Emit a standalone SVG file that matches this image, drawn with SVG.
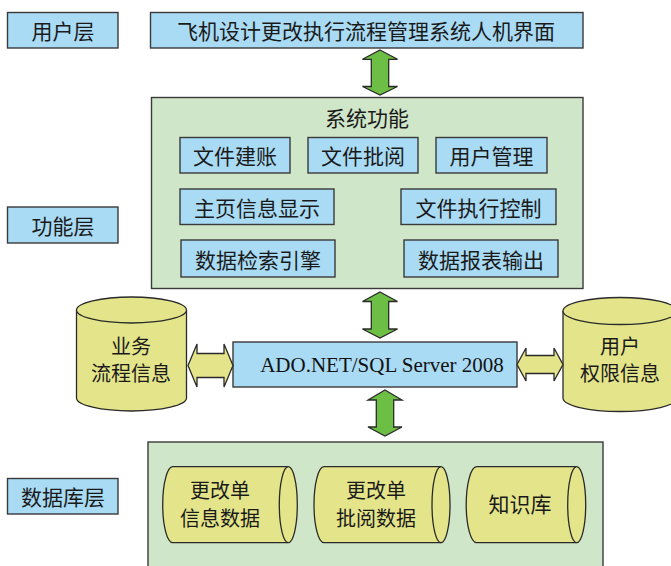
<svg xmlns="http://www.w3.org/2000/svg" width="671" height="566" viewBox="0 0 671 566">
  <style>
    .box { fill: #A9DBF5; stroke: #3a3a3a; stroke-width: 1.4; }
    .panel { fill: #D0E6C8; stroke: #3a3a3a; stroke-width: 1.4; }
    .db { fill: #E4E58A; stroke: #2a2a2a; stroke-width: 1.3; }
    .garrow { fill: #6CBE45; stroke: #2a2a2a; stroke-width: 1.3; stroke-linejoin: miter; }
    .yarrow { fill: #E4E58A; stroke: #2a2a2a; stroke-width: 1.3; }
    .t { font-family: "Noto Sans CJK SC", "Noto Sans", sans-serif; font-size: 21px; fill: #1a1a1a; text-anchor: middle; dominant-baseline: central; }
    .t2 { font-family: "Noto Sans CJK SC", "Noto Sans", sans-serif; font-size: 20px; fill: #1a1a1a; text-anchor: middle; dominant-baseline: central; }
    .en { font-family: "Liberation Serif", "Times New Roman", serif; font-size: 21px; fill: #111; text-anchor: middle; }
  </style>

  <!-- layer labels -->
  <g id="label-user">
    <rect class="box" x="7.5" y="12.5" width="110.5" height="35.5"/>
    <text class="t" x="63" y="30">用户层</text>
  </g>
  <g id="label-function">
    <rect class="box" x="7.5" y="207" width="110.5" height="36"/>
    <text class="t" x="63" y="225">功能层</text>
  </g>
  <g id="label-data">
    <rect class="box" x="7.5" y="478.5" width="110.5" height="35.5"/>
    <text class="t" x="63" y="496">数据库层</text>
  </g>

  <!-- user interface -->
  <g id="ui">
    <rect class="box" x="150.5" y="12.5" width="432.5" height="35.5"/>
    <text class="t" x="366" y="30">飞机设计更改执行流程管理系统人机界面</text>
  </g>

  <!-- system functions panel -->
  <g id="functions">
    <rect class="panel" x="151.5" y="97.5" width="431.5" height="191"/>
    <text class="t" x="367" y="117">系统功能</text>
  </g>
  <g id="f-create">
    <rect class="box" x="180" y="137.5" width="110" height="35.5"/>
    <text class="t" x="235" y="155">文件建账</text>
  </g>
  <g id="f-review">
    <rect class="box" x="308" y="137.5" width="110" height="35.5"/>
    <text class="t" x="363" y="155">文件批阅</text>
  </g>
  <g id="f-users">
    <rect class="box" x="436" y="137.5" width="111" height="35.5"/>
    <text class="t" x="491.5" y="155">用户管理</text>
  </g>
  <g id="f-home">
    <rect class="box" x="180" y="189" width="154" height="35.5"/>
    <text class="t" x="257" y="206.5">主页信息显示</text>
  </g>
  <g id="f-exec">
    <rect class="box" x="401" y="189" width="155" height="35.5"/>
    <text class="t" x="478.5" y="206.5">文件执行控制</text>
  </g>
  <g id="f-search">
    <rect class="box" x="181" y="240" width="154" height="37"/>
    <text class="t" x="258" y="258.5">数据检索引擎</text>
  </g>
  <g id="f-report">
    <rect class="box" x="404" y="240" width="154" height="37"/>
    <text class="t" x="481" y="258.5">数据报表输出</text>
  </g>

  <!-- data access -->
  <g id="ado">
    <rect class="box" x="233" y="342" width="284" height="45"/>
    <text class="en" x="382" y="372">ADO.NET/SQL Server 2008</text>
  </g>

  <!-- side databases -->
  <g id="db-business">
    <path class="db" d="M76.5,310 A55,13 0 0 1 186.5,310 L186.5,398 A55,13 0 0 1 76.5,398 Z"/>
    <path class="db" d="M76.5,310 A55,13 0 0 0 186.5,310" fill="none"/>
    <text class="t2" x="131" y="345">业务</text>
    <text class="t2" x="131" y="372">流程信息</text>
  </g>
  <g id="db-users">
    <path class="db" d="M563,311 A57,13.5 0 0 1 677,311 L677,398 A57,13.5 0 0 1 563,398 Z"/>
    <path class="db" d="M563,311 A57,13.5 0 0 0 677,311" fill="none"/>
    <text class="t2" x="620" y="345">用户</text>
    <text class="t2" x="620" y="372">权限信息</text>
  </g>

  <!-- data layer panel -->
  <g id="datastore">
    <rect class="panel" x="148" y="442" width="455" height="140"/>
  </g>
  <g id="db-change-info">
    <path class="db" d="M172.7,466.7 L288.3,466.7 A9,38 0 0 1 288.3,542.7 L172.7,542.7 A10,38 0 0 1 172.7,466.7 Z"/>
    <path class="db" d="M288.3,466.7 A9,38 0 0 0 288.3,542.7" fill="none"/>
    <text class="t2" x="220" y="489">更改单</text>
    <text class="t2" x="220" y="517">信息数据</text>
  </g>
  <g id="db-change-review">
    <path class="db" d="M324,466.7 L441,466.7 A9,38 0 0 1 441,542.7 L324,542.7 A10,38 0 0 1 324,466.7 Z"/>
    <path class="db" d="M441,466.7 A9,38 0 0 0 441,542.7" fill="none"/>
    <text class="t2" x="376" y="489">更改单</text>
    <text class="t2" x="376" y="517">批阅数据</text>
  </g>
  <g id="db-knowledge">
    <path class="db" d="M476.7,466.7 L576.7,466.7 A9,38 0 0 1 576.7,542.7 L476.7,542.7 A10.5,38 0 0 1 476.7,466.7 Z"/>
    <path class="db" d="M576.7,466.7 A9,38 0 0 0 576.7,542.7" fill="none"/>
    <text class="t" x="520" y="503">知识库</text>
  </g>

  <!-- connectors: double-headed block arrows -->
  <g id="connectors">
    <path class="garrow" d="M380,50 L397.5,59.3 L388.7,59.3 L388.7,86.5 L397.5,86.5 L380,95 L362.5,86.5 L371.3,86.5 L371.3,59.3 L362.5,59.3 Z"/>
    <path class="garrow" d="M380,292 L397.5,301.5 L388.7,301.5 L388.7,329 L397.5,329 L380,338 L362.5,329 L371.3,329 L371.3,301.5 L362.5,301.5 Z"/>
    <path class="garrow" d="M385,390 L402,400 L393.7,400 L393.7,427 L402,427 L385,436 L368,427 L376.3,427 L376.3,400 L368,400 Z"/>
    <path class="yarrow" d="M188,365.5 L197,344 L197,353.5 L224,353.5 L224,344 L233,365.5 L224,387 L224,377.5 L197,377.5 L197,387 Z"/>
    <path class="yarrow" d="M517,364.5 L526,348 L526,355.5 L554,355.5 L554,348 L563,364.5 L554,381 L554,373.5 L526,373.5 L526,381 Z"/>
  </g>
</svg>
